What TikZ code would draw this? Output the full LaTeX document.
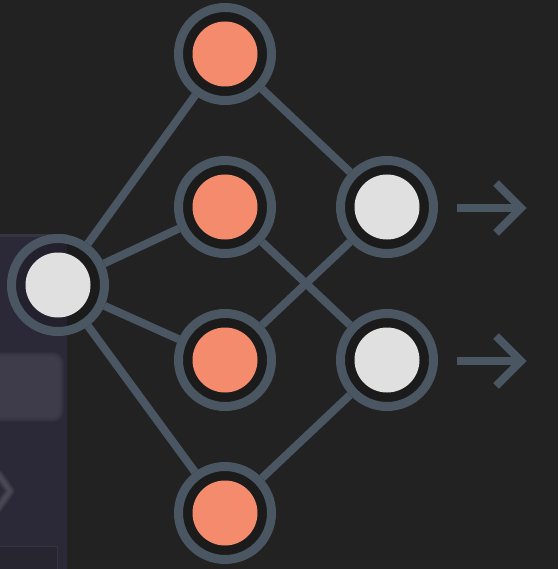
\documentclass[tikz,border=0pt]{standalone}
\usetikzlibrary{calc}
\definecolor{bgc}{HTML}{222222}
\definecolor{ringc}{HTML}{4A5662}
\definecolor{hidc}{HTML}{F38B6C}
\definecolor{ioc}{HTML}{E0E0E0}
\definecolor{panelc}{HTML}{2B2937}
\definecolor{paneledge}{HTML}{35343F}
\definecolor{panellight}{HTML}{4A4858}
\definecolor{paneldark}{HTML}{272530}
\begin{document}
\begin{tikzpicture}[x=1pt,y=-1pt,
  neuron/.style={circle, draw=ringc, line width=9pt, fill=black, fill opacity=0.18,
    draw opacity=1, minimum size=93pt, inner sep=0pt},
  link/.style={draw=ringc, line width=8pt},
  outarrow/.style={draw=ringc, line width=8pt, line join=miter}]
\useasboundingbox (0,0) rectangle (558,569);
\fill[bgc] (0,0) rectangle (558,569);

% partially visible, out-of-focus side panel
\fill[panelc] (0,234) rectangle (67,569);
\fill[paneledge] (0,234) rectangle (67,237);
\foreach \g in {5,4,3,2,1,0}
  \fill[panellight, opacity=0.17, rounded corners=6+\g] (-10,{357-\g}) rectangle ({59+\g},{417+\g});
\foreach \w in {9,6,3}
  \draw[panellight!80!white, opacity=0.18, line width=\w pt, line cap=round, line join=round]
    (-2,474) -- (10,491) -- (-2,508);
\fill[paneldark] (0,546) rectangle (57,569);
\draw[paneledge, line width=1pt] (0,546) -- (57,546) -- (57,569);

% neurons
\node[neuron] (in) at (58,285) {};
\node[neuron] (h1) at (225,54) {};
\node[neuron] (h2) at (225,207) {};
\node[neuron] (h3) at (225,360) {};
\node[neuron] (h4) at (225,513) {};
\node[neuron] (o1) at (387,207) {};
\node[neuron] (o2) at (387,360) {};

% connections
\foreach \h in {h1,h2,h3,h4} \draw[link] (in) -- (\h);
\draw[link] (h1) -- (o1);
\draw[link] (h3) -- (o1);
\draw[link] (h2) -- (o2);
\draw[link] (h4) -- (o2);

% neuron cores
\fill[ioc] (in) circle (32.5);
\foreach \h in {h1,h2,h3,h4} \fill[hidc] (\h) circle (32.5);
\fill[ioc] (o1) circle (32.5);
\fill[ioc] (o2) circle (32.5);

% output arrows
\coordinate (a1s) at (457,208);
\coordinate (a1e) at (521,208);
\coordinate (a2s) at (457,361);
\coordinate (a2e) at (521,361);
\draw[outarrow] (a1s) -- (a1e);
\draw[outarrow] ($(a1e)+(-25,-25)$) -- (a1e) -- ($(a1e)+(-25,25)$);
\draw[outarrow] (a2s) -- (a2e);
\draw[outarrow] ($(a2e)+(-25,-25)$) -- (a2e) -- ($(a2e)+(-25,25)$);
\end{tikzpicture}
\end{document}
